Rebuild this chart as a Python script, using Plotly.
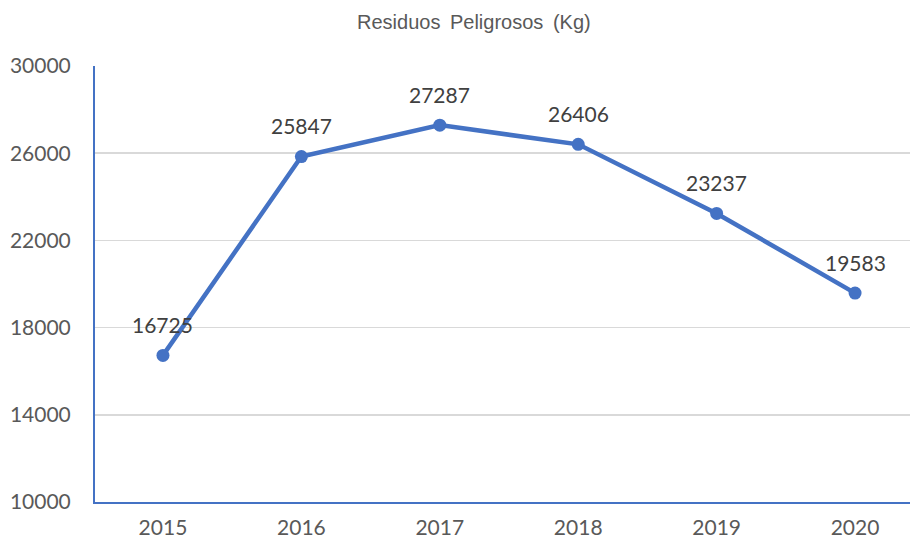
import plotly.graph_objects as go

years = ["2015", "2016", "2017", "2018", "2019", "2020"]
values = [16725, 25847, 27287, 26406, 23237, 19583]
y_ticks = [10000, 14000, 18000, 22000, 26000, 30000]
title_text = "Residuos\u2009 Peligrosos\u2009 (Kg)"

blue = "#4472C4"
fig = go.Figure()
fig.add_trace(go.Scatter(
    x=list(range(len(years))), y=values, mode="lines+markers",
    line=dict(color=blue, width=4.5),
    marker=dict(color=blue, size=13),
    hoverinfo="skip",
))
for i, v in enumerate(values):
    fig.add_annotation(x=i, y=v, text=str(v), showarrow=False, yshift=31,
                       font=dict(family="Lato", size=21, color="#404040"))

fig.add_annotation(xref="paper", yref="paper", x=(474 - 95) / 815, y=1 + (66 - 22) / 436,
                   text=title_text, showarrow=False, xanchor="center", yanchor="middle",
                   font=dict(family="Liberation Sans", size=20, color="#595959"))

fig.update_layout(
    width=910, height=545,
    margin=dict(l=95, r=0, t=66, b=43),
    paper_bgcolor="white", plot_bgcolor="white",
    showlegend=False,
    xaxis=dict(
        range=[-0.491, 5.397], tickmode="array", tickvals=list(range(len(years))),
        ticktext=years, showgrid=False, zeroline=False,
        showline=True, linecolor=blue, linewidth=2, ticks="",
        ticklabelstandoff=6,
        tickfont=dict(family="Lato", size=21, color="#595959"),
    ),
    yaxis=dict(
        range=[10000, 30000], tickmode="array", tickvals=y_ticks,
        ticktext=[str(t) for t in y_ticks],
        showgrid=True, gridcolor="#D9D9D9", gridwidth=1.5, zeroline=False,
        showline=True, linecolor=blue, linewidth=2, ticks="",
        ticklabelstandoff=18,
        tickfont=dict(family="Lato", size=21, color="#595959"),
    ),
)
fig.write_html("out.html", config={"displayModeBar": False, "staticPlot": True},
               post_script="document.body.style.margin='0';document.body.style.overflow='hidden';")
